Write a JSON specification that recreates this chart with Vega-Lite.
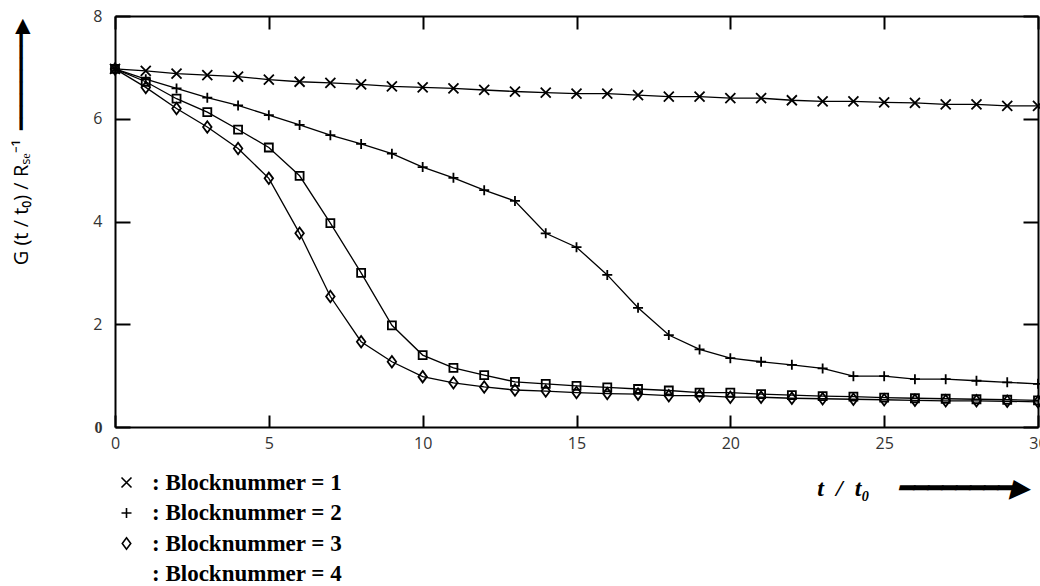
{
  "$schema": "https://vega.github.io/schema/vega-lite/v6.json",
  "width": 923,
  "height": 411,
  "autosize": "none",
  "padding": {"left": 115, "top": 16, "right": 2, "bottom": 159},
  "background": "white",
  "config": {"view": {"stroke": null}, "axis": {"grid": false}},
  "data": {"values": [
    {"t":0,"G":6.97,"b":1},{"t":1,"G":6.93,"b":1},{"t":2,"G":6.88,"b":1},{"t":3,"G":6.85,"b":1},{"t":4,"G":6.82,"b":1},{"t":5,"G":6.76,"b":1},{"t":6,"G":6.72,"b":1},{"t":7,"G":6.70,"b":1},{"t":8,"G":6.67,"b":1},{"t":9,"G":6.63,"b":1},{"t":10,"G":6.61,"b":1},{"t":11,"G":6.59,"b":1},{"t":12,"G":6.56,"b":1},{"t":13,"G":6.53,"b":1},{"t":14,"G":6.51,"b":1},{"t":15,"G":6.49,"b":1},{"t":16,"G":6.49,"b":1},{"t":17,"G":6.46,"b":1},{"t":18,"G":6.43,"b":1},{"t":19,"G":6.43,"b":1},{"t":20,"G":6.40,"b":1},{"t":21,"G":6.40,"b":1},{"t":22,"G":6.36,"b":1},{"t":23,"G":6.34,"b":1},{"t":24,"G":6.34,"b":1},{"t":25,"G":6.32,"b":1},{"t":26,"G":6.31,"b":1},{"t":27,"G":6.28,"b":1},{"t":28,"G":6.28,"b":1},{"t":29,"G":6.25,"b":1},{"t":30,"G":6.25,"b":1},
    {"t":0,"G":6.97,"b":2},{"t":1,"G":6.77,"b":2},{"t":2,"G":6.59,"b":2},{"t":3,"G":6.41,"b":2},{"t":4,"G":6.26,"b":2},{"t":5,"G":6.07,"b":2},{"t":6,"G":5.88,"b":2},{"t":7,"G":5.68,"b":2},{"t":8,"G":5.51,"b":2},{"t":9,"G":5.32,"b":2},{"t":10,"G":5.06,"b":2},{"t":11,"G":4.85,"b":2},{"t":12,"G":4.61,"b":2},{"t":13,"G":4.40,"b":2},{"t":14,"G":3.77,"b":2},{"t":15,"G":3.50,"b":2},{"t":16,"G":2.96,"b":2},{"t":17,"G":2.32,"b":2},{"t":18,"G":1.79,"b":2},{"t":19,"G":1.51,"b":2},{"t":20,"G":1.34,"b":2},{"t":21,"G":1.27,"b":2},{"t":22,"G":1.21,"b":2},{"t":23,"G":1.14,"b":2},{"t":24,"G":0.99,"b":2},{"t":25,"G":0.99,"b":2},{"t":26,"G":0.93,"b":2},{"t":27,"G":0.93,"b":2},{"t":28,"G":0.90,"b":2},{"t":29,"G":0.87,"b":2},{"t":30,"G":0.84,"b":2},
    {"t":0,"G":6.97,"b":3},{"t":1,"G":6.61,"b":3},{"t":2,"G":6.20,"b":3},{"t":3,"G":5.84,"b":3},{"t":4,"G":5.42,"b":3},{"t":5,"G":4.84,"b":3},{"t":6,"G":3.77,"b":3},{"t":7,"G":2.54,"b":3},{"t":8,"G":1.66,"b":3},{"t":9,"G":1.27,"b":3},{"t":10,"G":0.98,"b":3},{"t":11,"G":0.86,"b":3},{"t":12,"G":0.78,"b":3},{"t":13,"G":0.72,"b":3},{"t":14,"G":0.70,"b":3},{"t":15,"G":0.67,"b":3},{"t":16,"G":0.65,"b":3},{"t":17,"G":0.64,"b":3},{"t":18,"G":0.61,"b":3},{"t":19,"G":0.61,"b":3},{"t":20,"G":0.58,"b":3},{"t":21,"G":0.58,"b":3},{"t":22,"G":0.56,"b":3},{"t":23,"G":0.55,"b":3},{"t":24,"G":0.54,"b":3},{"t":25,"G":0.53,"b":3},{"t":26,"G":0.52,"b":3},{"t":27,"G":0.51,"b":3},{"t":28,"G":0.51,"b":3},{"t":29,"G":0.50,"b":3},{"t":30,"G":0.49,"b":3},
    {"t":0,"G":6.97,"b":4},{"t":1,"G":6.72,"b":4},{"t":2,"G":6.39,"b":4},{"t":3,"G":6.13,"b":4},{"t":4,"G":5.79,"b":4},{"t":5,"G":5.44,"b":4},{"t":6,"G":4.89,"b":4},{"t":7,"G":3.97,"b":4},{"t":8,"G":3.00,"b":4},{"t":9,"G":1.98,"b":4},{"t":10,"G":1.40,"b":4},{"t":11,"G":1.15,"b":4},{"t":12,"G":1.01,"b":4},{"t":13,"G":0.88,"b":4},{"t":14,"G":0.84,"b":4},{"t":15,"G":0.80,"b":4},{"t":16,"G":0.77,"b":4},{"t":17,"G":0.74,"b":4},{"t":18,"G":0.71,"b":4},{"t":19,"G":0.67,"b":4},{"t":20,"G":0.67,"b":4},{"t":21,"G":0.64,"b":4},{"t":22,"G":0.62,"b":4},{"t":23,"G":0.60,"b":4},{"t":24,"G":0.59,"b":4},{"t":25,"G":0.57,"b":4},{"t":26,"G":0.56,"b":4},{"t":27,"G":0.55,"b":4},{"t":28,"G":0.54,"b":4},{"t":29,"G":0.53,"b":4},{"t":30,"G":0.52,"b":4}
  ]},
  "layer": [
    {
      "mark": {"type": "line", "color": "black", "strokeWidth": 1.3},
      "encoding": {
        "x": {"field": "t", "type": "quantitative", "scale": {"domain": [0, 30], "nice": false},
          "axis": {"orient": "bottom", "values": [0,5,10,15,20,25,30], "tickSize": -12, "tickWidth": 2, "tickColor": "black",
            "domainWidth": 2, "domainColor": "black", "labelFont": "Open Sans", "labelFontSize": 16, "labelColor": "#333",
            "labelPadding": 20, "labelFlush": false, "labelOverlap": false,
            "title": "t\u2002/\u2002t₀\u2003\u2009━━━━━━━━▶", "titleFont": "Liberation Serif", "titleFontStyle": "italic", "titleFontWeight": "bold",
            "titleFontSize": 24, "titleColor": "black", "titleAlign": "right", "titleAnchor": "end", "titleBaseline": "alphabetic",
            "titleX": 913, "titleY": 68}},
        "y": {"field": "G", "type": "quantitative", "scale": {"domain": [0, 8], "nice": false},
          "axis": {"orient": "left", "values": [0,2,4,6,8], "tickSize": -15, "tickWidth": 2, "tickColor": "black",
            "domainWidth": 2, "domainColor": "black",
            "labelFont": {"condition": {"test": "datum.value == 0", "value": "Liberation Serif"}, "value": "Open Sans"},
            "labelFontWeight": {"condition": {"test": "datum.value == 0", "value": "bold"}, "value": "normal"},
            "labelFontSize": 16, "labelColor": "#333", "labelPadding": 28, "labelOverlap": false,
            "title": "G (t / t₀) / Rₛₑ⁻¹\u2002━━━━━━━━▶", "titleFont": "Open Sans", "titleFontWeight": "normal", "titleFontSize": 20,
            "titleColor": "black", "titleAngle": -90, "titleAlign": "right", "titleBaseline": "middle", "titleAnchor": "end",
            "titleX": -94, "titleY": 2}},
        "detail": {"field": "b", "type": "nominal"}
      }
    },
    {
      "mark": {"type": "point", "filled": false, "color": "black", "strokeWidth": 1.8, "size": 100, "opacity": 1},
      "encoding": {
        "x": {"field": "t", "type": "quantitative", "scale": {"domain": [0, 30], "nice": false},
          "axis": {"orient": "top", "values": [0,5,10,15,20,25,30], "labels": false, "title": null, "tickSize": -13, "tickWidth": 2,
            "tickColor": "black", "domainWidth": 2, "domainColor": "black"}},
        "y": {"field": "G", "type": "quantitative", "scale": {"domain": [0, 8], "nice": false},
          "axis": {"orient": "right", "values": [0,2,4,6,8], "labels": false, "title": null, "tickSize": -15, "tickWidth": 2,
            "tickColor": "black", "domainWidth": 2, "domainColor": "black"}},
        "shape": {"field": "b", "type": "nominal",
          "scale": {"domain": [1, 2, 3, 4], "range": ["M-1,-1L1,1M-1,1L1,-1", "M-1,0L1,0M0,-1L0,1", "M0,-1.15L0.85,0L0,1.15L-0.85,0Z", "M-0.8,-0.8L0.8,-0.8L0.8,0.8L-0.8,0.8Z"]},
          "legend": null}
      }
    },
    {
      "mark": {"type": "point", "filled": false, "color": "black", "strokeWidth": 1.6, "size": 0, "opacity": 1},
      "encoding": {
        "x": {"field": "t", "type": "quantitative", "scale": {"domain": [0, 30], "nice": false}, "axis": null},
        "y": {"field": "G", "type": "quantitative", "scale": {"domain": [0, 8], "nice": false}, "axis": null},
        "shape": {"field": "b", "type": "nominal",
          "scale": {"domain": [1, 2, 3, 4], "range": ["M-1,-1L1,1M-1,1L1,-1", "M-1,0L1,0M0,-1L0,1", "M0,-1.15L0.85,0L0,1.15L-0.85,0Z", "M0,0"]},
          "legend": {"orient": "none", "legendX": 0, "legendY": 455, "direction": "vertical", "title": null, "padding": 0,
            "labelExpr": "': Blocknummer = ' + datum.label", "labelFont": "Liberation Serif", "labelFontWeight": "bold",
            "labelFontSize": 23, "labelColor": "black", "labelLimit": 400, "labelOffset": 14, "rowPadding": 6.5,
            "symbolSize": 100, "symbolStrokeColor": "black", "symbolStrokeWidth": 1.6}}
      }
    }
  ],
  "resolve": {"axis": {"x": "independent", "y": "independent"}, "scale": {"shape": "independent"}}
}
